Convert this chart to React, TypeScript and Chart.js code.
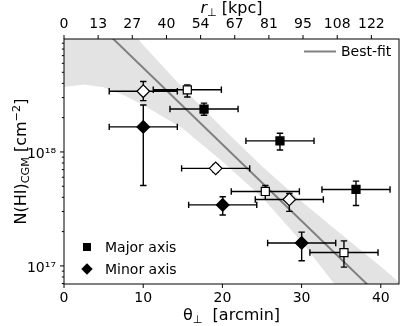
import React, { useEffect, useRef } from "react";
import { Chart, registerables } from "chart.js";

Chart.register(...registerables);

// ---------------- data ----------------
// Major axis, filled squares
const majFilledX = [17.68, 27.27, 36.87];
const majFilledY = [2.38e18, 1.25e18, 4.69e17];
const majFilledLo = [2.1e18, 1.04e18, 3.39e17];
const majFilledHi = [2.68e18, 1.46e18, 5.55e17];

// Major axis, open squares
const majOpenX = [15.57, 25.42, 35.35];
const majOpenY = [3.51e18, 4.5e17, 1.31e17];
const majOpenLo = [3.04e18, 3.83e17, 9.75e16];
const majOpenHi = [3.88e18, 5.08e17, 1.66e17];

// Minor axis, filled diamonds
const minFilledX = [10.01, 20.04, 30.01];
const minFilledY = [1.66e18, 3.43e17, 1.59e17];
const minFilledLo = [5.08e17, 2.8e17, 1.11e17];
const minFilledHi = [2.58e18, 4.04e17, 1.98e17];

// Minor axis, open diamonds
const minOpenX = [10.01, 19.15, 28.45];
const minOpenY = [3.41e18, 7.18e17, 3.83e17];
const minOpenLo = [2.82e18, 6.62e17, 3.01e17];
const minOpenHi = [4.15e18, 7.78e17, 4.32e17];

const xErr = [4.3, 4.3, 4.3];

// best-fit line end points
const fitX = [0, 42.3];
const fitY = [2.57e19, 3.7e16];

// confidence band
const bandX = [0, 2.5, 5, 7.5, 10, 15, 20, 25, 30, 35, 40, 42.3];
const bandLow = [3.72e18, 3.9e18, 3.7e18, 3.16e18, 2.58e18, 1.61e18, 8.26e17, 4.0e17, 1.63e17, 5.8e16, 2e16, 1.3e16];
const bandHigh = [8e19, 5e19, 2.8e19, 1.41e19, 8.7e18, 3.65e18, 1.62e18, 7.5e17, 3.67e17, 1.9e17, 9.9e16, 7.2e16];

// ticks
const bottomTicks = [0, 10, 20, 30, 40];
const topTickPos = [0, 4.31, 8.62, 12.94, 17.25, 21.56, 25.87, 30.18, 34.5, 38.81];
const topTickLabels = ["0", "13", "27", "40", "54", "67", "81", "95", "108", "122"];
const yLabelValues = [1e17, 1e18];
const yLabelTexts = ["10\u00B9\u2077", "10\u00B9\u2078"];

const X_MIN = 0;
const X_MAX = 42.3;
const Y_MIN = 6.94e16;
const Y_MAX = 9.8e18;

const FONT = '"DejaVu Sans", sans-serif';

function yMinorTicks(): number[] {
  const out: number[] = [];
  for (let e = 16; e <= 18; e++) {
    for (let m = 1; m <= 9; m++) {
      const v = m * Math.pow(10, e);
      if (v >= Y_MIN && v <= Y_MAX) out.push(v);
    }
  }
  return out;
}

type Seg = { t: string; size: number; dy?: number; italic?: boolean };
function drawRich(ctx: CanvasRenderingContext2D, segs: Seg[], cx: number, y: number) {
  const fontOf = (s: Seg) => `${s.italic ? "italic " : ""}${s.size}px ${FONT}`;
  let total = 0;
  const widths = segs.map((s) => {
    ctx.font = fontOf(s);
    const w = ctx.measureText(s.t).width;
    total += w;
    return w;
  });
  let x = cx - total / 2;
  ctx.textAlign = "left";
  ctx.textBaseline = "alphabetic";
  segs.forEach((s, i) => {
    ctx.font = fontOf(s);
    ctx.fillText(s.t, x, y + (s.dy || 0));
    x += widths[i];
  });
}

function drawErrorBars(chart: any) {
  const { ctx } = chart;
  const xs = chart.scales.x;
  const ys = chart.scales.y;
  const groups = [
    [majFilledX, majFilledY, majFilledLo, majFilledHi],
    [majOpenX, majOpenY, majOpenLo, majOpenHi],
    [minFilledX, minFilledY, minFilledLo, minFilledHi],
    [minOpenX, minOpenY, minOpenLo, minOpenHi],
  ];
  const cap = 3.2;
  ctx.save();
  ctx.strokeStyle = "#000";
  ctx.lineWidth = 1.4;
  ctx.beginPath();
  for (const [X, Y, LO, HI] of groups) {
    for (let i = 0; i < X.length; i++) {
      const px = xs.getPixelForValue(X[i]);
      const py = ys.getPixelForValue(Y[i]);
      const x0 = xs.getPixelForValue(X[i] - xErr[i]);
      const x1 = xs.getPixelForValue(X[i] + xErr[i]);
      const yl = ys.getPixelForValue(LO[i]);
      const yh = ys.getPixelForValue(HI[i]);
      ctx.moveTo(x0, py);
      ctx.lineTo(x1, py);
      ctx.moveTo(x0, py - cap);
      ctx.lineTo(x0, py + cap);
      ctx.moveTo(x1, py - cap);
      ctx.lineTo(x1, py + cap);
      ctx.moveTo(px, yl);
      ctx.lineTo(px, yh);
      ctx.moveTo(px - cap, yl);
      ctx.lineTo(px + cap, yl);
      ctx.moveTo(px - cap, yh);
      ctx.lineTo(px + cap, yh);
    }
  }
  ctx.stroke();
  ctx.restore();
}

const errorBarPlugin = {
  id: "errorBars",
  afterDatasetDraw(chart: any, args: any) {
    if (chart.data.datasets[args.index].label === "Best-fit") drawErrorBars(chart);
  },
};

const framePlugin = {
  id: "frame",
  afterDraw(chart: any) {
    const { ctx, chartArea: a, scales } = chart;
    ctx.save();
    ctx.strokeStyle = "#000";
    ctx.lineWidth = 1;
    ctx.strokeRect(a.left, a.top, a.right - a.left, a.bottom - a.top);
    ctx.beginPath();
    for (const v of bottomTicks) {
      const px = scales.x.getPixelForValue(v);
      ctx.moveTo(px, a.bottom);
      ctx.lineTo(px, a.bottom + 4);
    }
    for (const v of topTickPos) {
      const px = scales.x2.getPixelForValue(v);
      ctx.moveTo(px, a.top);
      ctx.lineTo(px, a.top - 4);
    }
    for (const t of scales.y.ticks) {
      const py = scales.y.getPixelForValue(t.value);
      const lg = Math.log10(t.value);
      const major = Math.abs(lg - Math.round(lg)) < 1e-9;
      ctx.moveTo(a.left, py);
      ctx.lineTo(a.left - (major ? 4 : 2.2), py);
    }
    ctx.stroke();

    // titles
    ctx.fillStyle = "#000";
    const cx = (a.left + a.right) / 2;
    drawRich(
      ctx,
      [
        { t: "\u03B8", size: 16 },
        { t: "\u22A5", size: 11.2, dy: 3 },
        { t: "  [arcmin]", size: 16 },
      ],
      cx,
      320
    );
    drawRich(
      ctx,
      [
        { t: "r", size: 16, italic: true },
        { t: "\u22A5", size: 11.2, dy: 3 },
        { t: " [kpc]", size: 16 },
      ],
      cx,
      13
    );
    ctx.save();
    ctx.translate(26, (a.top + a.bottom) / 2);
    ctx.rotate(-Math.PI / 2);
    drawRich(
      ctx,
      [
        { t: "N(HI)", size: 16 },
        { t: "CGM", size: 11.2, dy: 3 },
        { t: " [cm", size: 16 },
        { t: "\u22122", size: 11.2, dy: -6 },
        { t: "]", size: 16 },
      ],
      0,
      0
    );
    ctx.restore();

    // legend: Best-fit
    ctx.strokeStyle = "#808080";
    ctx.lineWidth = 2;
    ctx.beginPath();
    ctx.moveTo(304, 51.5);
    ctx.lineTo(336, 51.5);
    ctx.stroke();
    ctx.font = `14px ${FONT}`;
    ctx.textAlign = "left";
    ctx.textBaseline = "alphabetic";
    ctx.fillText("Best-fit", 341, 56);

    // legend: markers
    ctx.fillStyle = "#000";
    ctx.fillRect(83, 243, 8, 8);
    ctx.beginPath();
    ctx.moveTo(87, 263.3);
    ctx.lineTo(92.7, 269);
    ctx.lineTo(87, 274.7);
    ctx.lineTo(81.3, 269);
    ctx.closePath();
    ctx.fill();
    ctx.fillText("Major axis", 105, 252);
    ctx.fillText("Minor axis", 105, 274);
    ctx.restore();
  },
};

const tickFont = { family: FONT, size: 14 };

export default function App() {
  const ref = useRef<HTMLCanvasElement | null>(null);
  useEffect(() => {
    if (!ref.current) return;
    const pts = (X: number[], Y: number[]) => X.map((x, i) => ({ x, y: Y[i] }));
    const chart = new Chart(ref.current, {
      type: "scatter",
      data: {
        datasets: [
          {
            label: "Major filled",
            data: pts(majFilledX, majFilledY),
            pointStyle: "rect",
            pointRadius: 5.7,
            backgroundColor: "#000",
            borderColor: "#000",
            borderWidth: 1.2,
            order: 1,
          },
          {
            label: "Major open",
            data: pts(majOpenX, majOpenY),
            pointStyle: "rect",
            pointRadius: 5.7,
            backgroundColor: "#fff",
            borderColor: "#000",
            borderWidth: 1.2,
            order: 1,
          },
          {
            label: "Minor filled",
            data: pts(minFilledX, minFilledY),
            pointStyle: "rectRot",
            pointRadius: 6.3,
            backgroundColor: "#000",
            borderColor: "#000",
            borderWidth: 1.2,
            order: 1,
          },
          {
            label: "Minor open",
            data: pts(minOpenX, minOpenY),
            pointStyle: "rectRot",
            pointRadius: 6.3,
            backgroundColor: "#fff",
            borderColor: "#000",
            borderWidth: 1.2,
            order: 1,
          },
          {
            type: "line",
            label: "Best-fit",
            data: pts(fitX, fitY),
            borderColor: "#808080",
            borderWidth: 2,
            pointRadius: 0,
            fill: false,
            order: 2,
          } as any,
          {
            type: "line",
            label: "bandLow",
            data: pts(bandX, bandLow),
            borderWidth: 0,
            borderColor: "rgba(0,0,0,0)",
            pointRadius: 0,
            fill: false,
            order: 3,
          } as any,
          {
            type: "line",
            label: "bandHigh",
            data: pts(bandX, bandHigh),
            borderWidth: 0,
            borderColor: "rgba(0,0,0,0)",
            backgroundColor: "#e3e3e3",
            pointRadius: 0,
            fill: "-1",
            order: 3,
          } as any,
        ],
      },
      options: {
        animation: false,
        responsive: false,
        devicePixelRatio: 1,
        layout: { padding: { left: 0, right: 8, top: 0, bottom: 0 } },
        plugins: {
          legend: { display: false },
          tooltip: { enabled: false },
        },
        scales: {
          x: {
            type: "linear",
            position: "bottom",
            min: X_MIN,
            max: X_MAX,
            afterBuildTicks: (s: any) => {
              s.ticks = bottomTicks.map((v) => ({ value: v }));
            },
            afterFit: (s: any) => {
              s.height = 42;
            },
            ticks: {
              font: tickFont,
              color: "#000",
              padding: 6,
              autoSkip: false,
              maxRotation: 0,
              callback: (v: any) => String(v),
            },
            grid: { display: false, drawTicks: false },
            border: { display: false },
          },
          x2: {
            type: "linear",
            position: "top",
            min: X_MIN,
            max: X_MAX,
            afterBuildTicks: (s: any) => {
              s.ticks = topTickPos.map((v) => ({ value: v }));
            },
            afterFit: (s: any) => {
              s.height = 39;
            },
            ticks: {
              font: tickFont,
              color: "#000",
              padding: 6,
              autoSkip: false,
              maxRotation: 0,
              callback: (_v: any, i: number) => topTickLabels[i],
            },
            grid: { display: false, drawTicks: false },
            border: { display: false },
          },
          y: {
            type: "logarithmic",
            position: "left",
            min: Y_MIN,
            max: Y_MAX,
            afterBuildTicks: (s: any) => {
              s.ticks = yMinorTicks().map((v) => ({ value: v }));
            },
            afterFit: (s: any) => {
              s.width = 64;
            },
            ticks: {
              font: tickFont,
              color: "#000",
              padding: 8,
              autoSkip: false,
              labelOffset: 2,
              callback: (v: any) => {
                const idx = yLabelValues.findIndex(
                  (lv) => Math.abs(Math.log10(lv) - Math.log10(Number(v))) < 1e-6
                );
                return idx >= 0 ? yLabelTexts[idx] : "";
              },
            },
            grid: { display: false, drawTicks: false },
            border: { display: false },
          },
        },
      } as any,
      plugins: [errorBarPlugin, framePlugin],
    });
    return () => chart.destroy();
  }, []);
  return (
    <div style={{ position: "fixed", left: 0, top: 0, width: 407, height: 326, background: "#fff" }}>
      <canvas ref={ref} width={407} height={326} />
    </div>
  );
}
